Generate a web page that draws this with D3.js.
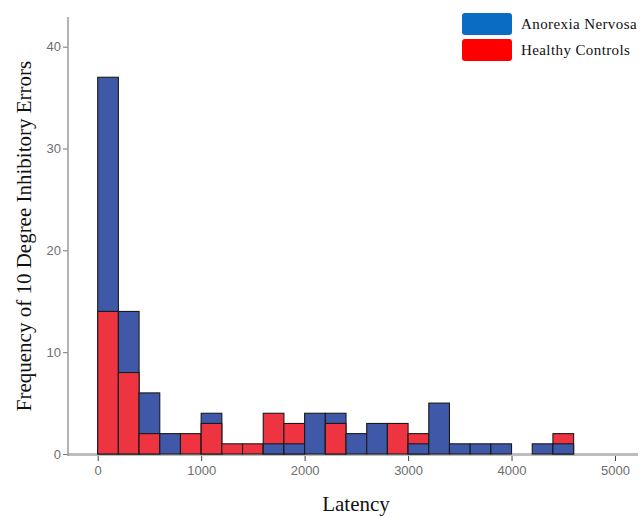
<!DOCTYPE html>
<html>
<head>
<meta charset="utf-8">
<script src="https://cdn.jsdelivr.net/npm/d3@7"></script>
<style>
  body { margin: 0; background: #fff; }
  .tick text { font-family: "Liberation Sans", Arial, sans-serif; fill: #6e6e6e; }
</style>
</head>
<body>
<div id="chart"></div>
<script>
// Data: histogram bins of width 200 starting at 0
const binStarts = d3.range(0, 4600, 200);
const anorexia = [37, 14, 6, 2, 0, 4, 0, 0, 1, 1, 4, 4, 2, 3, 0, 1, 5, 1, 1, 1, 0, 1, 1];
const controls = [14, 8, 2, 0, 2, 3, 1, 1, 4, 3, 0, 3, 0, 0, 3, 2, 0, 0, 0, 0, 0, 0, 2];
const xTicks = [0, 1000, 2000, 3000, 4000, 5000];
const yTicks = [0, 10, 20, 30, 40];
const seriesNames = ["Anorexia Nervosa", "Healthy Controls"];

const W = 642, H = 519;
const barBlue = "#3f58a8", barRed = "#ee3440";
const legendColors = ["#0b6cc3", "#ff0000"];

const svg = d3.select("#chart").append("svg")
    .attr("width", W)
    .attr("height", H);

const x = d3.scaleLinear().domain([0, 5000]).range([97.7, 615]);
const y = d3.scaleLinear().domain([0, 40]).range([454, 46.7]);
const axisLeftX = 68;

// baseline (gray band)
svg.append("line")
    .attr("x1", axisLeftX).attr("x2", 638)
    .attr("y1", y(0) + 0.5).attr("y2", y(0) + 0.5)
    .attr("stroke", "#bdbdbd").attr("stroke-width", 3);

// Build bars: larger drawn first, smaller in front
const bars = [];
binStarts.forEach((b, i) => {
    const pair = [
        { start: b, value: anorexia[i], color: barBlue },
        { start: b, value: controls[i], color: barRed }
    ].filter(d => d.value > 0).sort((a, c) => c.value - a.value);
    pair.forEach(d => bars.push(d));
});

svg.append("g").selectAll("rect")
    .data(bars)
    .join("rect")
    .attr("x", d => x(d.start))
    .attr("y", d => y(d.value))
    .attr("width", d => x(d.start + 200) - x(d.start))
    .attr("height", d => y(0) - y(d.value))
    .attr("fill", d => d.color)
    .attr("stroke", "#1a1a1a")
    .attr("stroke-width", 1.1);

// y axis
const yAxis = svg.append("g")
    .attr("transform", `translate(${axisLeftX},0)`)
    .call(d3.axisLeft(y).tickValues(yTicks).tickSize(5).tickPadding(2));
yAxis.select(".domain").remove();
yAxis.append("line")
    .attr("x1", 0).attr("x2", 0)
    .attr("y1", 17).attr("y2", y(0) + 2)
    .attr("stroke", "#999").attr("stroke-width", 1.5);
yAxis.selectAll(".tick line").attr("stroke", "#777");
yAxis.selectAll(".tick text").attr("font-size", 13);

// x axis
const xAxis = svg.append("g")
    .attr("transform", `translate(0,${y(0) + 2})`)
    .call(d3.axisBottom(x).tickValues(xTicks).tickSize(5).tickPadding(5).tickFormat(d3.format("d")));
xAxis.select(".domain").remove();
xAxis.selectAll(".tick line").attr("stroke", "#444");
xAxis.selectAll(".tick text").attr("font-size", 13);

// axis titles
svg.append("text")
    .attr("x", 356)
    .attr("y", 511)
    .attr("text-anchor", "middle")
    .attr("font-family", "'Liberation Serif', 'Times New Roman', serif")
    .attr("font-size", 21)
    .attr("fill", "#111")
    .text("Latency");

svg.append("text")
    .attr("transform", "translate(31,236) rotate(-90)")
    .attr("text-anchor", "middle")
    .attr("font-family", "'Liberation Serif', 'Times New Roman', serif")
    .attr("font-size", 21)
    .attr("fill", "#111")
    .text("Frequency of 10 Degree Inhibitory Errors");

// legend
const legend = svg.append("g").attr("transform", "translate(462,13)");
seriesNames.forEach((name, i) => {
    const g = legend.append("g").attr("transform", `translate(0,${i * 26})`);
    g.append("rect")
        .attr("width", 50).attr("height", 22)
        .attr("rx", 3)
        .attr("fill", legendColors[i]);
    g.append("text")
        .attr("x", 59).attr("y", 16)
        .attr("font-family", "'Liberation Serif', 'Times New Roman', serif")
        .attr("font-size", 15)
        .attr("letter-spacing", 0.4)
        .attr("fill", "#111")
        .text(name);
});
</script>
</body>
</html>
